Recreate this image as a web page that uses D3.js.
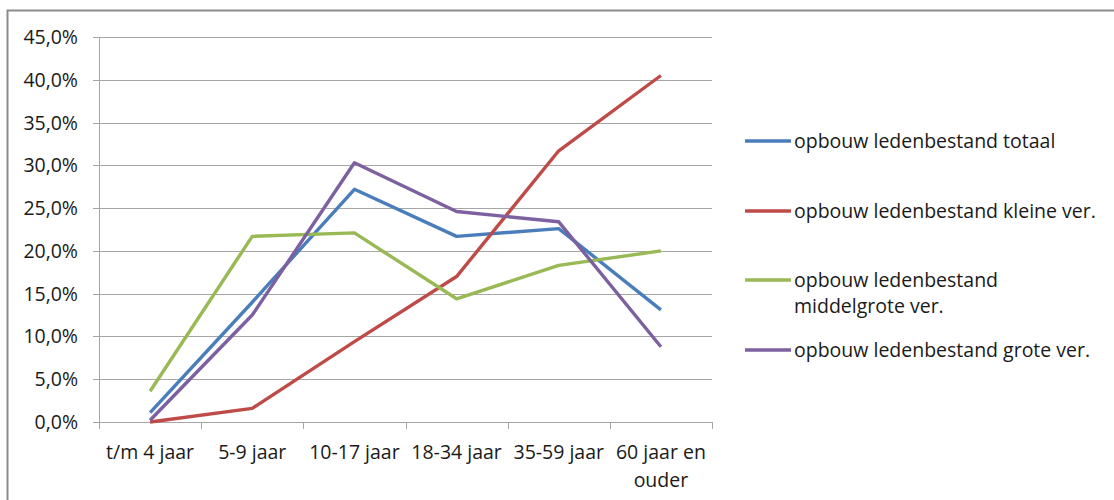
<!DOCTYPE html>
<html>
<head>
<meta charset="utf-8">
<script src="https://cdn.jsdelivr.net/npm/d3@7"></script>
<style>
  body { margin: 0; background: #fff; }
  svg { font-family: "Open Sans", "Noto Sans", sans-serif; }
</style>
</head>
<body>
<svg id="chart" width="1114" height="500"></svg>
<script>
// leeftijdscategorieen
const categories = ['t/m 4 jaar', '5-9 jaar', '10-17 jaar', '18-34 jaar', '35-59 jaar', '60 jaar en ouder'];
const yTicks = [0, 5, 10, 15, 20, 25, 30, 35, 40, 45];

const totaal = [1.1, 14.0, 27.2, 21.7, 22.6, 13.1];
const klein = [0.0, 1.6, 9.4, 17.0, 31.7, 40.5];
const middel = [3.6, 21.7, 22.1, 14.4, 18.3, 20.0];
const groot = [0.2, 12.5, 30.3, 24.6, 23.4, 8.8];

const seriesNames = [
    ['opbouw ledenbestand totaal'],
    ['opbouw ledenbestand kleine ver.'],
    ['opbouw ledenbestand', 'middelgrote ver.'],
    ['opbouw ledenbestand grote ver.']
];
const seriesValues = [totaal, klein, middel, groot];
const colors = ['#4a7ebb', '#be4b48', '#98b954', '#7d60a0'];

const svg = d3.select('#chart');
const plotLeft = 99, plotRight = 712, plotTop = 37, plotBottom = 422;
const fontSize = 19.5;

// rand om de grafiek
svg.append('rect')
    .attr('x', 7.5).attr('y', 10.5)
    .attr('width', 1120).attr('height', 520)
    .attr('fill', '#fff')
    .attr('stroke', '#8c8c8c')
    .attr('stroke-width', 2);

const x = d3.scaleBand().domain(categories).range([plotLeft, plotRight]);
const y = d3.scaleLinear().domain([0, 45]).range([plotBottom, plotTop]);

const grid = svg.append('g');
grid.selectAll('line')
    .data(yTicks)
    .enter()
    .append('line')
    .attr('x1', plotLeft - 6)
    .attr('x2', plotRight)
    .attr('y1', (d) => Math.round(y(d)) + 0.5)
    .attr('y2', (d) => Math.round(y(d)) + 0.5)
    .attr('stroke', '#a6a6a6')
    .attr('stroke-width', 1);

grid.selectAll('text')
    .data(yTicks)
    .enter()
    .append('text')
    .attr('x', 78)
    .attr('y', (d) => y(d))
    .attr('dy', '0.36em')
    .attr('text-anchor', 'end')
    .attr('font-size', fontSize)
    .attr('fill', '#1a1a1a')
    .text((d) => d.toFixed(1).replace('.', ',') + '%');

// y-as
svg.append('line')
    .attr('x1', plotLeft + 0.5).attr('x2', plotLeft + 0.5)
    .attr('y1', plotTop).attr('y2', plotBottom)
    .attr('stroke', '#a6a6a6');

// x-as met streepjes
const xTickPos = categories.map((c) => x(c)).concat([plotRight]);
svg.append('g').selectAll('line')
    .data(xTickPos)
    .enter()
    .append('line')
    .attr('x1', (d) => Math.round(d) + 0.5)
    .attr('x2', (d) => Math.round(d) + 0.5)
    .attr('y1', plotBottom)
    .attr('y2', plotBottom + 7)
    .attr('stroke', '#a6a6a6');

const xLabels = svg.append('g');
categories.forEach((c, i) => {
    let lines = c === '60 jaar en ouder' ? ['60 jaar en', 'ouder'] : [c];
    let t = xLabels.append('text')
        .attr('x', x(c) + x.bandwidth() / 2)
        .attr('y', 459)
        .attr('text-anchor', 'middle')
        .attr('font-size', fontSize)
        .attr('fill', '#1a1a1a');
    lines.forEach((l, j) => {
        t.append('tspan')
            .attr('x', x(c) + x.bandwidth() / 2)
            .attr('dy', j === 0 ? 0 : 28)
            .text(l);
    });
});

const line = d3.line()
    .x((d, i) => x(categories[i]) + x.bandwidth() / 2)
    .y((d) => y(d));

seriesValues.forEach((vals, i) => {
    svg.append('path')
        .datum(vals)
        .attr('d', line)
        .attr('fill', 'none')
        .attr('stroke', colors[i])
        .attr('stroke-width', 3.4)
        .attr('stroke-linejoin', 'round');
});

// legenda
const legendY = [141, 211, 280, 350];
const legend = svg.append('g');
seriesNames.forEach((names, i) => {
    legend.append('line')
        .attr('x1', 745).attr('x2', 791)
        .attr('y1', legendY[i]).attr('y2', legendY[i])
        .attr('stroke', colors[i])
        .attr('stroke-width', 3.4);
    names.forEach((n, j) => {
        legend.append('text')
            .attr('x', 794)
            .attr('y', legendY[i] + j * 26)
            .attr('dy', '0.36em')
            .attr('font-size', fontSize)
            .attr('fill', '#1a1a1a')
            .text(n);
    });
});
</script>
</body>
</html>
